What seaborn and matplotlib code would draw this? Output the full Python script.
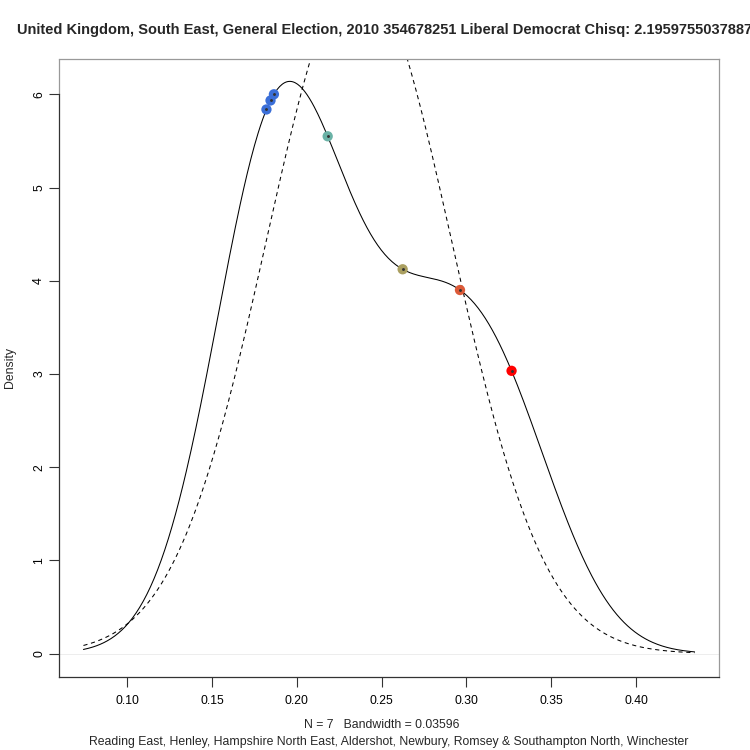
import numpy as np
import pandas as pd
import seaborn as sns
import matplotlib
matplotlib.use('Agg')
import matplotlib.pyplot as plt

# Lib Dem vote share in each seat
seats = ['Reading East', 'Henley', 'Hampshire North East', 'Aldershot',
         'Newbury', 'Romsey & Southampton North', 'Winchester']
share = [0.1821, 0.1845, 0.1865, 0.2182, 0.2624, 0.2962, 0.3266]
point_colours = ['#3b6fd8', '#3b6fd8', '#3b6fd8', '#6ab2a6',
                 '#aa9f60', '#dc5a38', '#ff0000']
bandwidth = 0.03596

xticks = [0.10, 0.15, 0.20, 0.25, 0.30, 0.35, 0.40]
yticks = [0, 1, 2, 3, 4, 5, 6]

title = ('United Kingdom, South East, General Election, 2010 354678251 '
         'Liberal Democrat Chisq: 2.19597550378877')


def main():
    sns.set_style('ticks')
    plt.rcParams['font.family'] = ['Liberation Sans', 'DejaVu Sans']

    df = pd.DataFrame({'share': share, 'colour': point_colours})

    fig = plt.figure(figsize=(7.5, 7.5), dpi=100)
    ax = fig.add_axes([59 / 750, 1 - 676.5 / 750, 660 / 750, 618 / 750])

    # kernel density, bandwidth as printed under the chart
    bw_factor = bandwidth / df['share'].std()
    sns.kdeplot(data=df, x='share', bw_method=bw_factor, cut=3, gridsize=512,
                color='black', lw=0.75, ax=ax)
    kx, ky = ax.lines[0].get_data()

    # fitted normal curve (dashed)
    mu, sd = df['share'].mean(), df['share'].std(ddof=0)
    norm_y = np.exp(-0.5 * ((kx - mu) / sd) ** 2) / (sd * np.sqrt(2 * np.pi))
    sns.lineplot(x=kx, y=norm_y, color='black', lw=0.75,
                 linestyle=(0, (4, 3.5)), ax=ax)

    ax.axhline(0, color='#e6e6e6', lw=0.5, zorder=0)

    df['density'] = np.interp(df['share'], kx, ky)
    sns.scatterplot(data=df, x='share', y='density', hue='colour',
                    palette=dict(zip(point_colours, point_colours)),
                    s=55, edgecolor='none', legend=False, zorder=3, ax=ax)
    ax.scatter(df['share'], df['density'], s=1.2, color='#333333', zorder=4)

    lo, hi = kx.min(), kx.max()
    pad = 0.04 * (hi - lo)
    ax.set_xlim(lo - pad, hi + pad)
    ytop = ky.max()
    ax.set_ylim(-0.04 * ytop, 1.04 * ytop)

    ax.set_xticks(xticks)
    ax.set_xticklabels(['%.2f' % t for t in xticks])
    ax.set_yticks(yticks)
    ax.set_yticklabels([str(t) for t in yticks], rotation=90, va='center')
    ax.tick_params(axis='both', length=7, width=0.8, color='#333333',
                   labelsize=8.8, labelcolor='black')
    ax.tick_params(axis='x', pad=6)
    ax.tick_params(axis='y', pad=3)
    ax.set_xlabel('')
    ax.set_ylabel('')

    for s in ['top', 'right']:
        ax.spines[s].set_color('#999999')
        ax.spines[s].set_linewidth(0.9)
    ax.spines['bottom'].set_color('#333333')
    ax.spines['bottom'].set_linewidth(0.9)
    ax.spines['left'].set_color('#333333')
    ax.spines['left'].set_linewidth(0.9)
    ax.spines['left'].set_bounds(-0.04 * ytop, 6)
    ax.plot([0, 0], [(6 + 0.04 * ytop) / (1.08 * ytop), 1],
            transform=ax.transAxes, color='#999999', lw=0.9, clip_on=False)

    fig.text(389 / 750, 1 - 30 / 750, title, ha='center', va='center',
             fontsize=10.5, fontweight='bold')
    fig.text(10 / 750, 1 - 367.5 / 750, 'Density', rotation=90,
             ha='center', va='center', fontsize=8.8)
    fig.text(382 / 750, 1 - 725 / 750, 'N = 7   Bandwidth = %.5f' % bandwidth,
             ha='center', va='center', fontsize=8.8)
    fig.text(389 / 750, 1 - 742 / 750, ', '.join(seats),
             ha='center', va='center', fontsize=8.8)

    fig.savefig('out.png', dpi=100)


if __name__ == '__main__': main()
